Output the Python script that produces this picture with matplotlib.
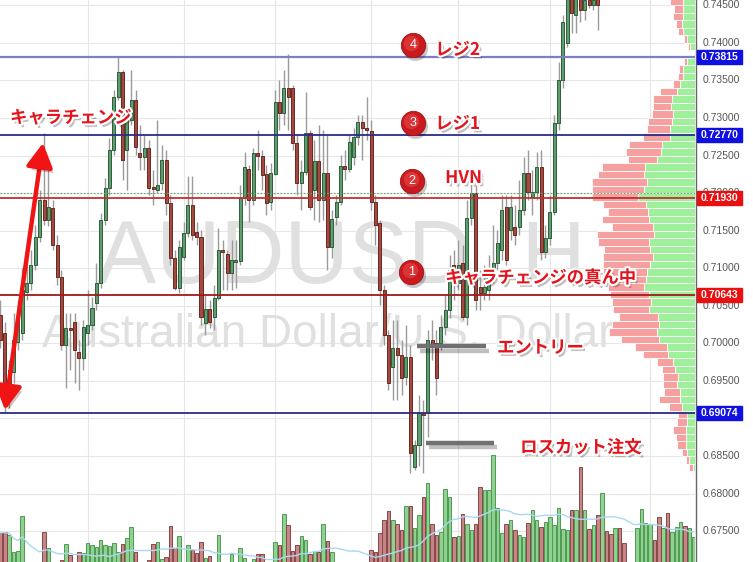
import numpy as np
import pandas as pd
import matplotlib
matplotlib.use('Agg')
import matplotlib.pyplot as plt
import matplotlib.patheffects as pe
import matplotlib.transforms as mtransforms
from matplotlib.patches import Rectangle
from matplotlib.lines import Line2D

# ---------------- data (AUDUSD hourly candles) ----------------
opens = [0.7038, 0.7014, 0.6925, 0.6962, 0.7002, 0.7014, 0.7068, 0.7080, 0.7104, 0.7142,
         0.7191, 0.7164, 0.7180, 0.7131, 0.7088, 0.6998, 0.7020, 0.7028, 0.6988, 0.6980,
         0.7014, 0.7024, 0.7054, 0.7080, 0.7164, 0.7207, 0.7257, 0.7328, 0.7361, 0.7257,
         0.7297, 0.7324, 0.7253, 0.7248, 0.7260, 0.7208, 0.7204, 0.7213, 0.7244, 0.7187,
         0.7114, 0.7074, 0.7115, 0.7147, 0.7184, 0.7148, 0.7142, 0.7027, 0.7046, 0.7035,
         0.7061, 0.7124, 0.7119, 0.7094, 0.7108, 0.7110, 0.7193, 0.7232, 0.7191, 0.7253,
         0.7249, 0.7225, 0.7188, 0.7225, 0.7321, 0.7307, 0.7340, 0.7340, 0.7267, 0.7213,
         0.7228, 0.7280, 0.7204, 0.7243, 0.7191, 0.7227, 0.7128, 0.7168, 0.7188, 0.7236,
         0.7232, 0.7248, 0.7275, 0.7295, 0.7287, 0.7283, 0.7188, 0.7160, 0.7071, 0.7011,
         0.6969, 0.6994, 0.6984, 0.6955, 0.6982, 0.6835, 0.6865, 0.6907, 0.6907, 0.7004,
         0.7000, 0.7000, 0.7022, 0.7044, 0.7104, 0.7080, 0.7107, 0.7035, 0.7167, 0.7200,
         0.7075, 0.7067, 0.7071, 0.7088, 0.7107, 0.7124, 0.7181, 0.7151, 0.7155, 0.7155,
         0.7178, 0.7227, 0.7195, 0.7201, 0.7235, 0.7122, 0.7140, 0.7175, 0.7293, 0.7351,
         0.7400, 0.7464, 0.7437, 0.7464, 0.7444, 0.7457, 0.7450, 0.7464, 0.7470, 0.7485,
         0.7476, 0.7468, 0.7480, 0.7472, 0.7466, 0.7470, 0.7474, 0.7484, 0.7497, 0.7505,
         0.7512, 0.7506, 0.7494, 0.7503, 0.7493, 0.7500, 0.7508, 0.7515, 0.7509, 0.7514]
closes = [0.7005, 0.6925, 0.6965, 0.7005, 0.7034, 0.7071, 0.7080, 0.7104, 0.7142, 0.7191,
          0.7164, 0.7181, 0.7131, 0.7088, 0.6998, 0.7020, 0.7018, 0.6991, 0.6980, 0.7022,
          0.7024, 0.7047, 0.7080, 0.7164, 0.7207, 0.7257, 0.7328, 0.7361, 0.7244, 0.7297,
          0.7324, 0.7261, 0.7248, 0.7260, 0.7207, 0.7205, 0.7211, 0.7244, 0.7187, 0.7114,
          0.7074, 0.7128, 0.7147, 0.7184, 0.7144, 0.7142, 0.7035, 0.7046, 0.7028, 0.7061,
          0.7124, 0.7122, 0.7094, 0.7111, 0.7111, 0.7193, 0.7235, 0.7191, 0.7253, 0.7249,
          0.7224, 0.7187, 0.7227, 0.7321, 0.7307, 0.7340, 0.7328, 0.7267, 0.7213, 0.7228,
          0.7280, 0.7181, 0.7243, 0.7191, 0.7227, 0.7128, 0.7165, 0.7188, 0.7236, 0.7232,
          0.7268, 0.7275, 0.7295, 0.7287, 0.7284, 0.7188, 0.7158, 0.7071, 0.7011, 0.6947,
          0.6994, 0.6984, 0.6954, 0.6982, 0.6854, 0.6865, 0.6907, 0.6905, 0.7004, 0.6998,
          0.6954, 0.7022, 0.7044, 0.7098, 0.7080, 0.7104, 0.7035, 0.7167, 0.7200, 0.7058,
          0.7067, 0.7075, 0.7088, 0.7107, 0.7134, 0.7178, 0.7111, 0.7181, 0.7144, 0.7178,
          0.7227, 0.7201, 0.7201, 0.7235, 0.7122, 0.7140, 0.7175, 0.7293, 0.7351, 0.7428,
          0.7464, 0.7440, 0.7464, 0.7444, 0.7457, 0.7450, 0.7457, 0.7450, 0.7485, 0.7476,
          0.7468, 0.7480, 0.7472, 0.7466, 0.7470, 0.7474, 0.7484, 0.7497, 0.7505, 0.7512,
          0.7506, 0.7494, 0.7503, 0.7493, 0.7500, 0.7508, 0.7515, 0.7509, 0.7514, 0.7518]
highs = [0.7058, 0.7028, 0.6978, 0.7040, 0.7058, 0.7100, 0.7118, 0.7124, 0.7158, 0.7204,
         0.7280, 0.7244, 0.7191, 0.7144, 0.7098, 0.7040, 0.7040, 0.7040, 0.7004, 0.7031,
         0.7071, 0.7062, 0.7107, 0.7173, 0.7220, 0.7273, 0.7337, 0.7381, 0.7364, 0.7308,
         0.7364, 0.7337, 0.7291, 0.7277, 0.7271, 0.7231, 0.7297, 0.7264, 0.7257, 0.7197,
         0.7124, 0.7138, 0.7162, 0.7223, 0.7223, 0.7162, 0.7151, 0.7064, 0.7058, 0.7078,
         0.7154, 0.7138, 0.7124, 0.7138, 0.7138, 0.7211, 0.7255, 0.7237, 0.7260, 0.7284,
         0.7257, 0.7237, 0.7240, 0.7337, 0.7351, 0.7364, 0.7385, 0.7344, 0.7277, 0.7244,
         0.7335, 0.7284, 0.7271, 0.7291, 0.7284, 0.7277, 0.7178, 0.7197, 0.7251, 0.7257,
         0.7277, 0.7287, 0.7304, 0.7304, 0.7328, 0.7297, 0.7197, 0.7164, 0.7078, 0.7018,
         0.7031, 0.7031, 0.7004, 0.7024, 0.6998, 0.6871, 0.6931, 0.6925, 0.7018, 0.7031,
         0.7018, 0.7038, 0.7064, 0.7118, 0.7124, 0.7138, 0.7131, 0.7191, 0.7217, 0.7211,
         0.7098, 0.7104, 0.7118, 0.7158, 0.7151, 0.7197, 0.7197, 0.7197, 0.7184, 0.7217,
         0.7248, 0.7257, 0.7231, 0.7255, 0.7257, 0.7158, 0.7197, 0.7304, 0.7375, 0.7437,
         0.7484, 0.7484, 0.7477, 0.7477, 0.7470, 0.7470, 0.7470, 0.7477, 0.7490, 0.7492,
         0.7482, 0.7486, 0.7486, 0.7478, 0.7475, 0.7478, 0.7489, 0.7502, 0.7510, 0.7518,
         0.7517, 0.7510, 0.7508, 0.7507, 0.7505, 0.7512, 0.7520, 0.7519, 0.7518, 0.7522]
lows = [0.6994, 0.6907, 0.6914, 0.6947, 0.6991, 0.7005, 0.7058, 0.7071, 0.7098, 0.7135,
        0.7158, 0.7156, 0.7124, 0.7078, 0.6991, 0.6941, 0.6965, 0.6947, 0.6938, 0.6965,
        0.6998, 0.7018, 0.7044, 0.7074, 0.7158, 0.7197, 0.7251, 0.7324, 0.7217, 0.7204,
        0.7291, 0.7251, 0.7231, 0.7231, 0.7197, 0.7184, 0.7200, 0.7204, 0.7171, 0.7104,
        0.7071, 0.7067, 0.7111, 0.7142, 0.7138, 0.7131, 0.7024, 0.7011, 0.7020, 0.7018,
        0.7058, 0.7071, 0.7071, 0.7071, 0.7074, 0.7104, 0.7184, 0.7162, 0.7184, 0.7231,
        0.7204, 0.7171, 0.7178, 0.7224, 0.7284, 0.7291, 0.7284, 0.7257, 0.7197, 0.7178,
        0.7224, 0.7178, 0.7164, 0.7162, 0.7164, 0.7098, 0.7114, 0.7158, 0.7184, 0.7217,
        0.7228, 0.7237, 0.7264, 0.7244, 0.7271, 0.7178, 0.7131, 0.7051, 0.6998, 0.6938,
        0.6925, 0.6925, 0.6931, 0.6945, 0.6827, 0.6831, 0.6837, 0.6827, 0.6875, 0.6978,
        0.6931, 0.6991, 0.7011, 0.7034, 0.7058, 0.7071, 0.7031, 0.7024, 0.7158, 0.7044,
        0.7044, 0.7058, 0.7058, 0.7080, 0.7098, 0.7111, 0.7104, 0.7138, 0.7131, 0.7144,
        0.7171, 0.7191, 0.7171, 0.7191, 0.7111, 0.7114, 0.7131, 0.7171, 0.7284, 0.7340,
        0.7394, 0.7413, 0.7413, 0.7428, 0.7430, 0.7446, 0.7444, 0.7417, 0.7466, 0.7470,
        0.7463, 0.7464, 0.7467, 0.7462, 0.7463, 0.7467, 0.7470, 0.7480, 0.7492, 0.7500,
        0.7501, 0.7489, 0.7490, 0.7488, 0.7489, 0.7496, 0.7504, 0.7504, 0.7505, 0.7510]
volume = [87, 88, 85, 68, 69, 104, 45, 45, 45, 45,
          88, 72, 45, 45, 60, 76, 65, 45, 68, 67,
          77, 75, 73, 80, 75, 74, 77, 68, 76, 82,
          93, 68, 45, 45, 60, 76, 78, 61, 63, 94,
          72, 84, 45, 75, 70, 67, 78, 62, 64, 45,
          85, 45, 45, 66, 45, 72, 62, 45, 61, 66,
          66, 45, 45, 78, 75, 106, 95, 69, 75, 84,
          80, 66, 69, 68, 96, 79, 68, 45, 45, 45,
          45, 45, 45, 45, 45, 70, 68, 87, 100, 109,
          100, 96, 90, 114, 114, 92, 105, 123, 137, 96,
          85, 88, 131, 123, 83, 84, 106, 96, 90, 96,
          133, 130, 130, 165, 112, 87, 96, 100, 90, 85,
          83, 97, 110, 100, 93, 98, 103, 95, 112, 91,
          90, 110, 110, 153, 110, 91, 95, 105, 127, 89,
          86, 92, 92, 77, 45, 45, 92, 111, 97, 96,
          80, 103, 92, 107, 88, 93, 98, 94, 92, 83]

# volume profile (bins of 0.001, lower edge), sell (red) and buy (green) parts
profile_bins = [round(0.745 - 0.001 * k, 3) for k in range(64)]
profile_red = [13, 9, 10, 6, 5, 3, 2, 1, 3, 4, 5, 7, 17, 19, 18, 21, 24, 23, 27, 33,
               35, 29, 43, 46, 55, 52, 46, 43, 40, 47, 41, 57, 51, 46, 50, 47, 44, 39, 36, 39,
               39, 36, 39, 47, 48, 38, 32, 25, 16, 13, 15, 14, 16, 21, 13, 9, 10, 13, 10, 9,
               5, 3, 4, 1]
profile_green = [12, 12, 12, 13, 12, 8, 5, 1, 8, 12, 12, 15, 18, 23, 24, 22, 23, 25, 25, 33,
                 34, 38, 50, 51, 48, 51, 57, 49, 47, 46, 42, 41, 46, 45, 42, 45, 48, 49, 51, 46,
                 44, 46, 37, 36, 38, 36, 28, 27, 22, 20, 17, 18, 15, 15, 13, 8, 8, 9, 9, 9,
                 8, 6, 2, 1]

levels = [0.73815, 0.72770, 0.71930, 0.70643, 0.69074]
level_colors = ['#7e7ec4', '#2b2b8c', '#c23030', '#a01a1a', '#2b2b84']
tag_colors = ['#1010e0', '#1010e0', '#e81010', '#e81010', '#1010e0']
dotted_level = 0.7200
price_ticks = [0.675, 0.680, 0.685, 0.690, 0.695, 0.700, 0.705, 0.710, 0.715,
               0.720, 0.725, 0.730, 0.735, 0.740, 0.745]
day_breaks = [20, 42, 63, 85, 105, 126, 149]

entry_level, stop_level = 0.6996, 0.6867

# ---------------- figure ----------------
W, H = 753, 562
PW = 695
fig = plt.figure(figsize=(W / 100, H / 100), dpi=100)
rect = [0, 0, PW / W, 1]
ymin, ymax = 0.67090, 0.74570
xmin, xmax = -0.1, 159.3

o = np.array(opens); c = np.array(closes)
hi = np.array(highs); lo = np.array(lows)
vol = np.array(volume, dtype=float)
idx = np.arange(len(o))
up = c >= o

ax = fig.add_axes(rect)
ax.set_xlim(xmin, xmax)
ax.set_ylim(ymin, ymax)
ax.set_yticks(price_ticks)
ax.set_xticks(day_breaks)
ax.grid(True, color='#e6e6e6', lw=0.8)
ax.set_axisbelow(True)
ax.tick_params(length=0, labelleft=False, labelbottom=False)
for s in ax.spines.values():
    s.set_visible(False)

# watermark
ax.text(97 / PW, 1 - 283 / H, 'AUDUSD, H', transform=ax.transAxes, fontsize=64,
        family='Liberation Sans', color='#e0e0e0', ha='left', va='baseline', zorder=1)
ax.text(42 / PW, 1 - 347 / H, 'Australian Dollar/U.S. Dollar', transform=ax.transAxes,
        fontsize=33, family='Liberation Sans', color='#e0e0e0', ha='left', va='baseline', zorder=1)

# candles
ax.vlines(idx, lo, hi, color='#9a9a9a', lw=1, zorder=2)
ax.bar(idx[up], np.maximum(c[up] - o[up], 0.00004), bottom=o[up], width=0.7,
       color='#5e9d6e', edgecolor='#2f5c3b', lw=0.7, zorder=3)
ax.bar(idx[~up], np.maximum(o[~up] - c[~up], 0.00004), bottom=c[~up], width=0.7,
       color='#a4493f', edgecolor='#6a2820', lw=0.7, zorder=3)

# volume profile
axp = fig.add_axes(rect)
axp.set_xlim(PW, 0)
axp.set_ylim(ymin, ymax)
axp.axis('off')
bins = np.array(profile_bins) + 0.0005
g = np.array(profile_green); r = np.array(profile_red)
axp.barh(bins, g, left=0, height=0.001, color='#9ef09a', edgecolor='white', lw=0.6)
axp.barh(bins, r, left=g, height=0.001, color='#f7a0a0', edgecolor='white', lw=0.6)

# volume bars
axv = fig.add_axes(rect)
axv.set_xlim(xmin, xmax)
axv.set_ylim(58, 620)
axv.axis('off')
axv.bar(idx[up], vol[up], width=0.8, color='#8fd18f', edgecolor='#4f9a55', lw=0.7)
axv.bar(idx[~up], vol[~up], width=0.8, color='#c48686', edgecolor='#8a4646', lw=0.7)
ma = pd.Series(vol).rolling(20, min_periods=1).mean()
axv.plot(idx, ma, color='#a9d9f0', lw=1)

# top overlay: levels and annotations
axt = fig.add_axes(rect)
axt.set_xlim(xmin, xmax)
axt.set_ylim(ymin, ymax)
axt.axis('off')
for lv, lc in zip(levels, level_colors):
    axt.axhline(lv, color=lc, lw=1.3 if lc != '#7e7ec4' else 1.6)
axt.axhline(dotted_level, color='#6aa870', lw=0.8, ls=(0, (1.5, 1.5)))

shadow_line = [pe.SimpleLineShadow(offset=(2, -3), alpha=0.25, shadow_color='black'), pe.Normal()]
axt.plot([95.5, 111.4], [entry_level, entry_level], color='#707070', lw=3.2,
         solid_capstyle='butt', path_effects=shadow_line)
axt.plot([97.6, 113.2], [stop_level, stop_level], color='#707070', lw=3.2,
         solid_capstyle='butt', path_effects=shadow_line)

ann = axt.annotate('', xy=(1.05, 0.69113), xytext=(9.76, 0.72667),
                   arrowprops=dict(arrowstyle='<|-|>,head_length=0.9,head_width=0.5',
                                   color='#f01414', lw=3.2, shrinkA=0, shrinkB=0,
                                   mutation_scale=16))
ann.arrow_patch.set_path_effects([pe.SimplePatchShadow(offset=(2, -3), alpha=0.25), pe.Normal()])

# numbered circles
circles = [(94.6, 0.7397, '4'), (94.6, 0.72933, '3'), (94.4, 0.72161, '2'), (94.2, 0.70950, '1')]
for cx, cy, num in circles:
    sh = mtransforms.offset_copy(axt.transData, fig=fig, x=2, y=-3, units='dots')
    axt.plot([cx], [cy], 'o', ms=18, color='#000000', alpha=0.22, mew=0, transform=sh)
    axt.plot([cx], [cy], 'o', ms=17.5, color='#c81a1f', mec='#a51217', mew=0.6)
    hl = mtransforms.offset_copy(axt.transData, fig=fig, x=-1.5, y=2, units='dots')
    axt.plot([cx], [cy], 'o', ms=11, color='#ec4a4a', alpha=0.55, mew=0, transform=hl)
    axt.text(cx, cy, num, ha='center', va='center', color='white', fontsize=9,
             family='Liberation Sans')

text_fx = [pe.SimplePatchShadow(offset=(2, -2.5), shadow_rgbFace='#444444', alpha=0.35),
           pe.Stroke(linewidth=3, foreground='white'), pe.Normal()]
labels = [(2.2, 0.7300, 'キャラチェンジ'), (99.7, 0.73905, 'レジ2'), (99.7, 0.7292, 'レジ1'),
          (102.0, 0.72201, 'HVN'), (102.0, 0.7087, 'キャラチェンジの真ん中'),
          (113.9, 0.6994, 'エントリー'), (119.2, 0.6861, 'ロスカット注文')]
for tx, ty, s in labels:
    axt.text(tx, ty, s, ha='left', va='center', color='#e3141c', fontsize=12.5,
             fontweight='bold', family=['Noto Sans CJK JP', 'DejaVu Sans'], path_effects=text_fx)

# price axis
fig.add_artist(Line2D([PW / W + 0.5 / W] * 2, [0, 1], color='#666666', lw=1, transform=fig.transFigure))
trans = mtransforms.blended_transform_factory(fig.transFigure, ax.transData)
for t in price_ticks:
    fig.text(703 / W, t, f'{t:.5f}', transform=trans, ha='left', va='center',
             fontsize=7.5, family='Liberation Sans', color='#555555', zorder=4)
hpx = (ymax - ymin) / H
for lv, tc in zip(levels, tag_colors):
    fig.add_artist(Rectangle((697 / W, lv - 7 * hpx), 45 / W, 14 * hpx, transform=trans,
                             color=tc, zorder=5))
    fig.text(719.5 / W, lv, f'{lv:.5f}', transform=trans, ha='center', va='center',
             fontsize=7.5, fontweight='bold', family='Liberation Sans', color='white', zorder=6)

fig.savefig('out.png', dpi=100)
